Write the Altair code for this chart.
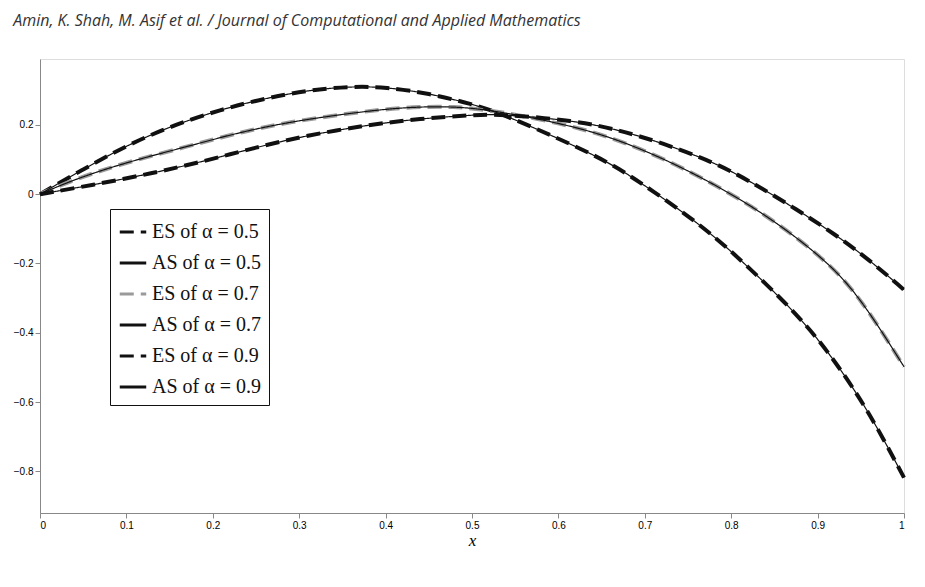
import altair as alt
import pandas as pd

# ---- values ----
x_a05 = [0, 0.05, 0.10, 0.15, 0.21, 0.26, 0.31, 0.36, 0.40, 0.45, 0.50, 0.53, 0.59, 0.66, 0.71, 0.77, 0.82, 0.88, 0.92, 0.96, 1.0]
y_a05 = [0, 0.072, 0.140, 0.195, 0.245, 0.276, 0.300, 0.311, 0.309, 0.291, 0.260, 0.236, 0.172, 0.092, 0.008, -0.098, -0.210, -0.355, -0.480, -0.630, -0.818]

x_a07 = [0, 0.04, 0.10, 0.17, 0.23, 0.29, 0.36, 0.42, 0.48, 0.53, 0.63, 0.70, 0.77, 0.84, 0.91, 0.95, 1.0]
y_a07 = [0, 0.043, 0.092, 0.137, 0.178, 0.209, 0.234, 0.251, 0.254, 0.240, 0.191, 0.128, 0.044, -0.058, -0.190, -0.300, -0.498]

x_a09 = [0, 0.06, 0.13, 0.19, 0.25, 0.31, 0.38, 0.44, 0.50, 0.53, 0.62, 0.67, 0.72, 0.78, 0.82, 0.87, 0.92, 0.96, 1.0]
y_a09 = [0, 0.026, 0.060, 0.095, 0.135, 0.170, 0.200, 0.218, 0.228, 0.232, 0.212, 0.185, 0.148, 0.092, 0.040, -0.035, -0.115, -0.190, -0.276]

series_names = ["ES of α = 0.5", "AS of α = 0.5",
                "ES of α = 0.7", "AS of α = 0.7",
                "ES of α = 0.9", "AS of α = 0.9"]
series_colors = ["#111111", "#111111", "#9a9a9a", "#111111", "#111111", "#111111"]
series_dashes = [[14, 7], [1, 0], [14, 7], [1, 0], [14, 7], [1, 0]]

x_ticks = [0, 0.1, 0.2, 0.3, 0.4, 0.5, 0.6, 0.7, 0.8, 0.9, 1.0]
y_ticks = [-0.8, -0.6, -0.4, -0.2, 0, 0.2]

header_text = "Amin, K. Shah, M. Asif et al. / Journal of Computational and Applied Mathematics"

# ---- build table ----
curves = [
    ("0.5", x_a05, y_a05),
    ("0.7", x_a07, y_a07),
    ("0.9", x_a09, y_a09),
]
rows = []
for a, xs, ys in curves:
    for kind in ("ES", "AS"):
        for i, (xv, yv) in enumerate(zip(xs, ys)):
            rows.append({"series": f"{kind} of α = {a}", "kind": kind, "x": xv, "y": yv, "i": i})
df = pd.DataFrame(rows)

x_enc = alt.X("x:Q", title="x",
              scale=alt.Scale(domain=[0, 1], nice=False),
              axis=alt.Axis(values=x_ticks, grid=False,
                            labelExpr="datum.value == 0 ? '0' : datum.value == 1 ? '1' : format(datum.value, '.1f')",
                            titleFont="Liberation Serif", titleFontStyle="italic",
                            titleFontWeight="normal", titleFontSize=17, titlePadding=2))
y_enc = alt.Y("y:Q", title=None,
              scale=alt.Scale(domain=[-0.92, 0.39], nice=False, zero=False),
              axis=alt.Axis(values=y_ticks, grid=False,
                            labelExpr="datum.value == 0 ? '0' : format(datum.value, '.1f')"))

legend_def = alt.Legend(title=None, orient="none", legendX=70, legendY=150,
                        symbolType="stroke", symbolSize=700, symbolStrokeWidth=3,
                        labelFont="Liberation Serif", labelFontSize=20,
                        labelColor="#111111", labelLimit=300,
                        fillColor="white", strokeColor="#111111",
                        padding=8, rowPadding=6, labelOffset=4)

color_enc = alt.Color("series:N",
                      scale=alt.Scale(domain=series_names, range=series_colors),
                      sort=series_names, legend=legend_def)
dash_enc = alt.StrokeDash("series:N",
                          scale=alt.Scale(domain=series_names, range=series_dashes),
                          sort=series_names, legend=legend_def)

base = alt.Chart(df)

es_layer = base.transform_filter(alt.datum.kind == "ES").mark_line(
    strokeWidth=4, interpolate="basis", strokeCap="butt"
).encode(x=x_enc, y=y_enc, color=color_enc, strokeDash=dash_enc, detail="series:N", order="i:Q")

as_layer = base.transform_filter(alt.datum.kind == "AS").mark_line(
    strokeWidth=1.2, interpolate="basis"
).encode(x=x_enc, y=y_enc, color=color_enc, strokeDash=dash_enc, detail="series:N", order="i:Q")

chart = alt.layer(es_layer, as_layer).properties(
    width=909, height=545,
    autosize=alt.AutoSizeParams(type="fit", contains="padding"),
    title=alt.TitleParams(header_text, anchor="start", font="Open Sans",
                          fontStyle="italic", fontWeight="normal", fontSize=16,
                          color="#333333", offset=30),
).configure_view(
    stroke="#111111", strokeWidth=1.2
).configure_axis(
    labelFont="Liberation Sans", labelFontSize=12, labelColor="#222222",
    domainColor="#111111", tickColor="#111111", tickSize=5,
    grid=False
).configure(background="white")

chart.save("out.html", embed_options={"renderer": "svg", "actions": False})
